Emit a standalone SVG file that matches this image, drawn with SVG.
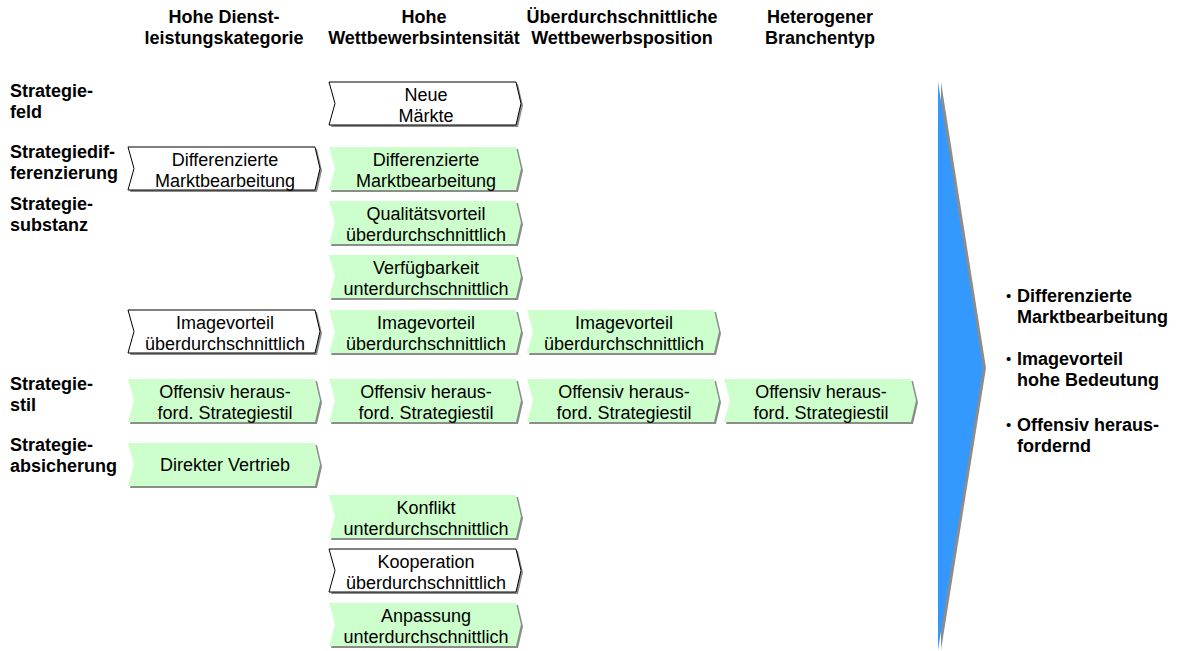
<svg xmlns="http://www.w3.org/2000/svg" xmlns:xlink="http://www.w3.org/1999/xlink" width="1179" height="651" viewBox="0 0 1179 651">
<style>
.sh{fill:#8c8c8c}
.w{fill:#ffffff;stroke:#000000;stroke-width:1}
.g{fill:#ccffcc}
.t{font-family:"Liberation Sans",Arial,sans-serif;font-size:18px;fill:#000000;text-anchor:middle}
.h{font-family:"Liberation Sans",Arial,sans-serif;font-size:18px;font-weight:bold;fill:#000000;text-anchor:middle}
.l{font-family:"Liberation Sans",Arial,sans-serif;font-size:18px;font-weight:bold;fill:#000000}
.b{font-family:"Liberation Sans",Arial,sans-serif;font-size:15px;fill:#000000}
</style>
<defs>
<path id="chev" d="M0,0 H187 L192,21.5 L187,43 H0 L6,21.5 Z"/>
</defs>
<rect width="1179" height="651" fill="#ffffff"/>

<g id="headers">
<text class="h" x="224" y="23">Hohe Dienst-</text>
<text class="h" x="224" y="44">leistungskategorie</text>
<text class="h" x="424" y="23">Hohe</text>
<text class="h" x="424" y="44">Wettbewerbsintensität</text>
<text class="h" x="622" y="23">Überdurchschnittliche</text>
<text class="h" x="622" y="44">Wettbewerbsposition</text>
<text class="h" x="820" y="23">Heterogener</text>
<text class="h" x="820" y="44">Branchentyp</text>
</g>

<g id="row-labels">
<text class="l" x="10" y="97">Strategie-</text>
<text class="l" x="10" y="118">feld</text>
<text class="l" x="10" y="158">Strategiedif-</text>
<text class="l" x="10" y="179">ferenzierung</text>
<text class="l" x="10" y="210">Strategie-</text>
<text class="l" x="10" y="231">substanz</text>
<text class="l" x="10" y="390">Strategie-</text>
<text class="l" x="10" y="411">stil</text>
<text class="l" x="10" y="451">Strategie-</text>
<text class="l" x="10" y="472">absicherung</text>
</g>

<g id="connectors"></g>

<!-- Column 1 -->
<g id="c1-differenzierte" transform="translate(128,147)">
<use xlink:href="#chev" class="sh" x="2" y="2"/><use xlink:href="#chev" class="w"/>
<text class="t" x="97" y="18.5">Differenzierte</text><text class="t" x="97" y="39.5">Marktbearbeitung</text>
</g>
<g id="c1-imagevorteil" transform="translate(128,310)">
<use xlink:href="#chev" class="sh" x="2" y="2"/><use xlink:href="#chev" class="w"/>
<text class="t" x="97" y="18.5">Imagevorteil</text><text class="t" x="97" y="39.5">überdurchschnittlich</text>
</g>
<g id="c1-offensiv" transform="translate(128,379)">
<use xlink:href="#chev" class="sh" x="2" y="2"/><use xlink:href="#chev" class="g"/>
<text class="t" x="97" y="18.5">Offensiv heraus-</text><text class="t" x="97" y="39.5">ford. Strategiestil</text>
</g>
<g id="c1-direkter-vertrieb" transform="translate(128,443)">
<use xlink:href="#chev" class="sh" x="2" y="2"/><use xlink:href="#chev" class="g"/>
<text class="t" x="97" y="28">Direkter Vertrieb</text>
</g>

<!-- Column 2 -->
<g id="c2-neue-maerkte" transform="translate(329,82)">
<use xlink:href="#chev" class="sh" x="2" y="2"/><use xlink:href="#chev" class="w"/>
<text class="t" x="97" y="18.5">Neue</text><text class="t" x="97" y="39.5">Märkte</text>
</g>
<g id="c2-differenzierte" transform="translate(329,147)">
<use xlink:href="#chev" class="sh" x="2" y="2"/><use xlink:href="#chev" class="g"/>
<text class="t" x="97" y="18.5">Differenzierte</text><text class="t" x="97" y="39.5">Marktbearbeitung</text>
</g>
<g id="c2-qualitaetsvorteil" transform="translate(329,201)">
<use xlink:href="#chev" class="sh" x="2" y="2"/><use xlink:href="#chev" class="g"/>
<text class="t" x="97" y="18.5">Qualitätsvorteil</text><text class="t" x="97" y="39.5">überdurchschnittlich</text>
</g>
<g id="c2-verfuegbarkeit" transform="translate(329,255)">
<use xlink:href="#chev" class="sh" x="2" y="2"/><use xlink:href="#chev" class="g"/>
<text class="t" x="97" y="18.5">Verfügbarkeit</text><text class="t" x="97" y="39.5">unterdurchschnittlich</text>
</g>
<g id="c2-imagevorteil" transform="translate(329,310)">
<use xlink:href="#chev" class="sh" x="2" y="2"/><use xlink:href="#chev" class="g"/>
<text class="t" x="97" y="18.5">Imagevorteil</text><text class="t" x="97" y="39.5">überdurchschnittlich</text>
</g>
<g id="c2-offensiv" transform="translate(329,379)">
<use xlink:href="#chev" class="sh" x="2" y="2"/><use xlink:href="#chev" class="g"/>
<text class="t" x="97" y="18.5">Offensiv heraus-</text><text class="t" x="97" y="39.5">ford. Strategiestil</text>
</g>
<g id="c2-konflikt" transform="translate(329,495)">
<use xlink:href="#chev" class="sh" x="2" y="2"/><use xlink:href="#chev" class="g"/>
<text class="t" x="97" y="18.5">Konflikt</text><text class="t" x="97" y="39.5">unterdurchschnittlich</text>
</g>
<g id="c2-kooperation" transform="translate(329,549)">
<use xlink:href="#chev" class="sh" x="2" y="2"/><use xlink:href="#chev" class="w"/>
<text class="t" x="97" y="18.5">Kooperation</text><text class="t" x="97" y="39.5">überdurchschnittlich</text>
</g>
<g id="c2-anpassung" transform="translate(329,603)">
<use xlink:href="#chev" class="sh" x="2" y="2"/><use xlink:href="#chev" class="g"/>
<text class="t" x="97" y="18.5">Anpassung</text><text class="t" x="97" y="39.5">unterdurchschnittlich</text>
</g>

<!-- Column 3 -->
<g id="c3-imagevorteil" transform="translate(527,310)">
<use xlink:href="#chev" class="sh" x="2" y="2"/><use xlink:href="#chev" class="g"/>
<text class="t" x="97" y="18.5">Imagevorteil</text><text class="t" x="97" y="39.5">überdurchschnittlich</text>
</g>
<g id="c3-offensiv" transform="translate(527,379)">
<use xlink:href="#chev" class="sh" x="2" y="2"/><use xlink:href="#chev" class="g"/>
<text class="t" x="97" y="18.5">Offensiv heraus-</text><text class="t" x="97" y="39.5">ford. Strategiestil</text>
</g>

<!-- Column 4 -->
<g id="c4-offensiv" transform="translate(724,379)">
<use xlink:href="#chev" class="sh" x="2" y="2"/><use xlink:href="#chev" class="g"/>
<text class="t" x="97" y="18.5">Offensiv heraus-</text><text class="t" x="97" y="39.5">ford. Strategiestil</text>
</g>

<!-- Result arrow -->
<g id="result-arrow">
<polygon points="941,82 986,368 941,650" fill="#8c8c8c"/>
<polygon points="938,82 983,368 938,650" fill="#3399ff"/>
</g>

<g id="result-text">
<text class="b" x="1006" y="301">•</text>
<text class="l" x="1017" y="302">Differenzierte</text>
<text class="l" x="1017" y="323">Marktbearbeitung</text>
<text class="b" x="1006" y="364">•</text>
<text class="l" x="1017" y="365">Imagevorteil</text>
<text class="l" x="1017" y="386">hohe Bedeutung</text>
<text class="b" x="1006" y="430">•</text>
<text class="l" x="1017" y="431">Offensiv heraus-</text>
<text class="l" x="1017" y="452">fordernd</text>
</g>
</svg>
